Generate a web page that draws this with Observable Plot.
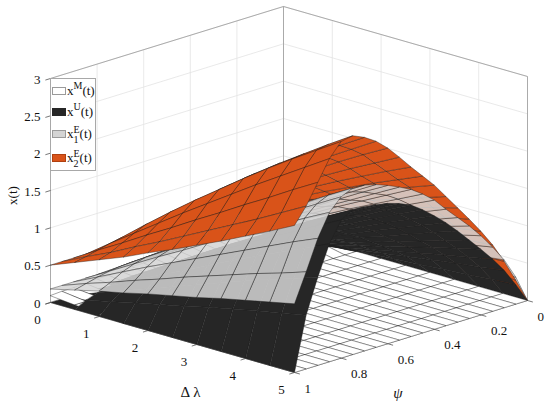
<!DOCTYPE html>
<html>
<head>
<meta charset="utf-8">
<script src="https://cdn.jsdelivr.net/npm/d3@7"></script>
<script src="https://cdn.jsdelivr.net/npm/@observablehq/plot@0.6"></script>
<style>
  body { margin: 0; background: #fff; }
  #wrap { position: relative; width: 550px; height: 404px; font-family: "Liberation Serif", "Tinos", "Times New Roman", Times, serif; }
  #legend { position: absolute; left: 50px; top: 78px; width: 46px; height: 93px; border: 1px solid #a8a8a8; background: #fff; font-size: 13px; color: #111; box-sizing: border-box; }
  .row { position: absolute; left: 1px; height: 20px; display: flex; align-items: center; white-space: nowrap; }
  .sw { display: inline-block; width: 14px; height: 8px; border: 1px solid #9a9a9a; box-sizing: border-box; margin-right: 1px; }
  .sup { font-size: 10px; position: relative; top: -6px; }
  .ss { display: inline-flex; flex-direction: column; font-size: 10px; line-height: 10px; position: relative; top: 1px; }
</style>
</head>
<body>
<div id="wrap">
  <div id="chart"></div>
  <div id="legend">
    <div class="row" style="top:2px"><span class="sw" style="background:#ffffff"></span><span>x<span class="sup">M</span>(t)</span></div>
    <div class="row" style="top:23px"><span class="sw" style="background:#262626;border-color:#262626"></span><span>x<span class="sup">U</span>(t)</span></div>
    <div class="row" style="top:45px"><span class="sw" style="background:#d4d4d4"></span><span style="display:inline-flex;align-items:center">x<span class="ss"><span>E</span><span>1</span></span>(t)</span></div>
    <div class="row" style="top:69px"><span class="sw" style="background:#d95319;border-color:#b04010"></span><span style="display:inline-flex;align-items:center">x<span class="ss"><span>E</span><span>2</span></span>(t)</span></div>
  </div>
</div>
<script>
// ---- data ----
const dLambda = [0, 0.5, 1, 1.5, 2, 2.5, 3, 3.5, 4, 4.5, 5];
const psi = [0, 0.05, 0.1, 0.15, 0.2, 0.25, 0.3, 0.35, 0.4, 0.45, 0.5, 0.55, 0.6, 0.65, 0.7, 0.75, 0.8, 0.85, 0.9, 0.95, 1];

// one row per psi value, one column per dLambda value
const x2E = [
  [0.50,0.44,0.39,0.33,0.28,0.23,0.18,0.13,0.09,0.04,0.00],
  [0.50,0.48,0.46,0.44,0.42,0.40,0.39,0.37,0.35,0.34,0.32],
  [0.50,0.51,0.53,0.54,0.55,0.56,0.58,0.59,0.60,0.61,0.62],
  [0.50,0.54,0.59,0.63,0.67,0.71,0.75,0.79,0.82,0.86,0.89],
  [0.50,0.57,0.64,0.71,0.77,0.83,0.89,0.95,1.01,1.07,1.12],
  [0.50,0.59,0.69,0.78,0.86,0.95,1.03,1.11,1.18,1.26,1.33],
  [0.50,0.62,0.73,0.84,0.95,1.05,1.16,1.25,1.35,1.44,1.53],
  [0.50,0.64,0.78,0.91,1.04,1.16,1.28,1.40,1.51,1.62,1.73],
  [0.50,0.66,0.82,0.97,1.12,1.27,1.41,1.55,1.68,1.81,1.93],
  [0.50,0.68,0.86,1.03,1.20,1.36,1.52,1.67,1.82,1.96,2.10],
  [0.50,0.70,0.90,1.09,1.27,1.45,1.63,1.80,1.96,2.12,2.27],
  [0.50,0.72,0.94,1.15,1.35,1.55,1.74,1.93,2.11,2.28,2.45],
  [0.50,0.74,0.98,1.20,1.42,1.64,1.85,2.05,2.25,2.44,2.62],
  [0.50,0.76,1.01,1.25,1.49,1.72,1.94,2.15,2.36,2.56,2.76],
  [0.50,0.77,1.03,1.28,1.53,1.77,2.00,2.23,2.44,2.66,2.86],
  [0.50,0.78,1.04,1.31,1.56,1.81,2.05,2.28,2.50,2.72,2.93],
  [0.50,0.77,1.04,1.30,1.55,1.79,2.03,2.26,2.48,2.69,2.90],
  [0.50,0.74,0.97,1.20,1.43,1.65,1.87,2.09,2.30,2.51,2.72],
  [0.50,0.70,0.89,1.09,1.28,1.48,1.67,1.87,2.06,2.26,2.45],
  [0.50,0.66,0.81,0.98,1.14,1.31,1.48,1.65,1.82,2.00,2.18],
  [0.50,0.63,0.76,0.89,1.04,1.18,1.33,1.48,1.64,1.80,1.97]
];
const x1E = [
  [0.18,0.16,0.14,0.12,0.11,0.09,0.07,0.05,0.03,0.02,0.00],
  [0.18,0.20,0.22,0.24,0.25,0.27,0.29,0.31,0.33,0.34,0.36],
  [0.18,0.23,0.28,0.32,0.37,0.42,0.46,0.51,0.55,0.60,0.64],
  [0.18,0.25,0.32,0.39,0.46,0.53,0.60,0.66,0.73,0.80,0.86],
  [0.18,0.27,0.36,0.46,0.54,0.63,0.72,0.81,0.89,0.98,1.06],
  [0.18,0.29,0.40,0.51,0.62,0.73,0.83,0.94,1.04,1.14,1.24],
  [0.18,0.31,0.44,0.56,0.69,0.81,0.93,1.05,1.17,1.28,1.40],
  [0.18,0.33,0.47,0.61,0.75,0.89,1.03,1.16,1.30,1.43,1.56],
  [0.18,0.34,0.51,0.66,0.82,0.98,1.13,1.28,1.43,1.58,1.73],
  [0.18,0.36,0.53,0.71,0.88,1.05,1.21,1.38,1.54,1.70,1.86],
  [0.18,0.37,0.56,0.74,0.92,1.10,1.28,1.46,1.63,1.80,1.97],
  [0.18,0.38,0.57,0.76,0.95,1.14,1.33,1.51,1.69,1.87,2.05],
  [0.18,0.38,0.59,0.79,0.98,1.18,1.37,1.56,1.75,1.94,2.12],
  [0.18,0.39,0.60,0.81,1.01,1.21,1.41,1.61,1.80,1.99,2.18],
  [0.18,0.40,0.61,0.82,1.03,1.23,1.43,1.63,1.83,2.03,2.22],
  [0.18,0.40,0.61,0.82,1.03,1.24,1.44,1.64,1.84,2.04,2.23],
  [0.18,0.39,0.60,0.80,1.00,1.20,1.40,1.59,1.78,1.97,2.16],
  [0.18,0.37,0.56,0.75,0.93,1.12,1.30,1.48,1.65,1.83,2.00],
  [0.18,0.34,0.50,0.66,0.81,0.96,1.11,1.26,1.41,1.56,1.70],
  [0.18,0.30,0.41,0.53,0.64,0.76,0.87,0.98,1.09,1.19,1.30],
  [0.18,0.26,0.34,0.41,0.49,0.56,0.63,0.71,0.78,0.85,0.92]
];
const xU = [
  [0,0.00,0.00,0.00,0.00,0.00,0.00,0.00,0.00,0.00,0.00],
  [0,0.03,0.06,0.08,0.11,0.14,0.16,0.19,0.21,0.24,0.26],
  [0,0.05,0.11,0.16,0.21,0.26,0.31,0.36,0.41,0.45,0.50],
  [0,0.07,0.15,0.22,0.29,0.36,0.43,0.50,0.57,0.63,0.70],
  [0,0.09,0.19,0.28,0.37,0.46,0.54,0.63,0.72,0.80,0.88],
  [0,0.11,0.22,0.33,0.44,0.55,0.65,0.75,0.85,0.95,1.05],
  [0,0.13,0.26,0.39,0.51,0.63,0.76,0.87,0.99,1.11,1.22],
  [0,0.15,0.29,0.44,0.58,0.72,0.85,0.99,1.12,1.25,1.38],
  [0,0.16,0.32,0.48,0.64,0.79,0.94,1.09,1.24,1.38,1.52],
  [0,0.18,0.35,0.52,0.69,0.86,1.02,1.18,1.34,1.50,1.65],
  [0,0.19,0.37,0.56,0.74,0.92,1.09,1.26,1.43,1.60,1.76],
  [0,0.20,0.39,0.58,0.77,0.95,1.13,1.31,1.49,1.66,1.83],
  [0,0.20,0.40,0.60,0.79,0.98,1.16,1.35,1.53,1.71,1.88],
  [0,0.20,0.41,0.61,0.80,0.99,1.18,1.37,1.55,1.73,1.91],
  [0,0.21,0.41,0.61,0.81,1.00,1.19,1.38,1.57,1.75,1.93],
  [0,0.21,0.41,0.61,0.81,1.01,1.20,1.39,1.58,1.76,1.94],
  [0,0.20,0.39,0.59,0.78,0.96,1.15,1.33,1.50,1.68,1.85],
  [0,0.17,0.34,0.50,0.66,0.82,0.98,1.13,1.28,1.43,1.58],
  [0,0.13,0.25,0.37,0.49,0.61,0.73,0.85,0.96,1.07,1.18],
  [0,0.08,0.15,0.23,0.30,0.37,0.45,0.52,0.59,0.65,0.72],
  [0,0.00,0.00,0.00,0.00,0.00,0.00,0.00,0.00,0.00,0.00]
];
const xM = [
  [0.22,0.15,0.07,0,0,0,0,0,0,0,0],
  [0.21,0.14,0.07,0,0,0,0,0,0,0,0],
  [0.21,0.14,0.07,0,0,0,0,0,0,0,0],
  [0.20,0.13,0.07,0,0,0,0,0,0,0,0],
  [0.19,0.13,0.06,0,0,0,0,0,0,0,0],
  [0.19,0.13,0.06,0,0,0,0,0,0,0,0],
  [0.18,0.12,0.06,0,0,0,0,0,0,0,0],
  [0.17,0.12,0.06,0,0,0,0,0,0,0,0],
  [0.17,0.11,0.06,0,0,0,0,0,0,0,0],
  [0.16,0.11,0.05,0,0,0,0,0,0,0,0],
  [0.16,0.10,0.05,0,0,0,0,0,0,0,0],
  [0.15,0.10,0.05,0,0,0,0,0,0,0,0],
  [0.14,0.10,0.05,0,0,0,0,0,0,0,0],
  [0.14,0.09,0.05,0,0,0,0,0,0,0,0],
  [0.13,0.09,0.04,0,0,0,0,0,0,0,0],
  [0.12,0.08,0.04,0,0,0,0,0,0,0,0],
  [0.12,0.08,0.04,0,0,0,0,0,0,0,0],
  [0.11,0.07,0.04,0,0,0,0,0,0,0,0],
  [0.10,0.07,0.03,0,0,0,0,0,0,0,0],
  [0.10,0.06,0.03,0,0,0,0,0,0,0,0],
  [0.09,0.06,0.03,0,0,0,0,0,0,0,0]
];

const zTicks = [0, 0.5, 1, 1.5, 2, 2.5, 3];
const dlTicks = [0, 1, 2, 3, 4, 5];
const psiTicks = [0, 0.2, 0.4, 0.6, 0.8, 1];
const zMax = 3, dlMax = 5, psiMax = 1;

// ---- orthographic 3-D view ----
const view = {ox: 283, oy: 230, dlx: 48.8, dly: 14, psx: -233, psy: 72, zy: -74.67};
function proj(dl, ps, z) {
  return [view.ox + view.dlx * dl + view.psx * ps, view.oy + view.dly * dl + view.psy * ps + view.zy * z];
}
// direction pointing at the camera (in data units) and horizontal distance toward it
const toCamera = [1, 0.2094, 0.3895];
const groundDepth = (dl, ps) => 0.1326 * dl + 0.682 * ps;

const surfaces = [
  {rows: xM, fill: "#ffffff"},
  {rows: xU, fill: "#262626"},
  {rows: x1E, fill: "rgba(212,212,212,0.86)"},
  {rows: x2E, fill: "#d95319"}
];

// painter's order for stacked height fields on a shared grid:
// columns back to front; inside a column, faces seen from above go low-to-high,
// faces seen from below go high-to-low (and before the others)
const quads = [];
for (const s of surfaces) {
  for (let i = 0; i < psi.length - 1; i++) {
    for (let j = 0; j < dLambda.length - 1; j++) {
      const r = s.rows;
      const corners = [[i, j], [i, j + 1], [i + 1, j + 1], [i + 1, j]].map(([a, b]) => ({dl: dLambda[b], ps: psi[a], z: r[a][b]}));
      const fx = ((r[i][j + 1] - r[i][j]) + (r[i + 1][j + 1] - r[i + 1][j])) / 2 / (dLambda[j + 1] - dLambda[j]);
      const fy = ((r[i + 1][j] - r[i][j]) + (r[i + 1][j + 1] - r[i][j + 1])) / 2 / (psi[i + 1] - psi[i]);
      const seenFromAbove = (-fx * toCamera[0] - fy * toCamera[1] + toCamera[2]) >= 0;
      const col = groundDepth((dLambda[j] + dLambda[j + 1]) / 2, (psi[i] + psi[i + 1]) / 2);
      const zMean = d3.mean(corners, c => c.z);
      quads.push({corners, col, key: seenFromAbove ? 10 + zMean : -zMean, fill: s.fill});
    }
  }
}
quads.sort((a, b) => (a.col - b.col) || (a.key - b.key));
const quadPts = quads.flatMap((q, k) => q.corners.map(c => {
  const [x, y] = proj(c.dl, c.ps, c.z);
  return {x, y, id: k, fill: q.fill};
}));

// ---- box, grid, axes ----
const seg = (p, q) => { const [x1, y1] = proj(...p); const [x2, y2] = proj(...q); return {x1, y1, x2, y2}; };
const grid = [];
zTicks.forEach(z => { grid.push(seg([0, psiMax, z], [0, 0, z])); grid.push(seg([0, 0, z], [dlMax, 0, z])); });
psiTicks.forEach(p => { grid.push(seg([0, p, 0], [0, p, zMax])); grid.push(seg([0, p, 0], [dlMax, p, 0])); });
dlTicks.forEach(d => { grid.push(seg([d, 0, 0], [d, 0, zMax])); grid.push(seg([d, 0, 0], [d, psiMax, 0])); });

const boxLines = [
  seg([0, psiMax, 0], [0, psiMax, zMax]),
  seg([0, 0, 0], [0, 0, zMax]),
  seg([dlMax, 0, 0], [dlMax, 0, zMax]),
  seg([0, psiMax, zMax], [0, 0, zMax]),
  seg([0, 0, zMax], [dlMax, 0, zMax]),
  seg([0, psiMax, 0], [dlMax, psiMax, 0]),
  seg([dlMax, psiMax, 0], [dlMax, 0, 0])
];
const ticks = [
  ...zTicks.map(z => seg([0, psiMax, z], [0, psiMax + 0.022, z])),
  ...dlTicks.map(d => seg([d, psiMax, 0], [d, psiMax + 0.022, 0])),
  ...psiTicks.map(p => seg([dlMax, p, 0], [dlMax + 0.11, p, 0]))
];

const px = f => d => f(d)[0], py = f => d => f(d)[1];
const zPos = z => proj(0, psiMax, z), dlPos = d => proj(d, psiMax, 0), psPos = p => proj(dlMax, p, 0);
const fmt = v => String(v);
const serif = "'Liberation Serif', 'Tinos', 'Times New Roman', Times, serif";

const chart = Plot.plot({
  width: 550,
  height: 404,
  margin: 0,
  x: {domain: [0, 550], range: [0, 550], axis: null},
  y: {domain: [0, 404], range: [0, 404], axis: null},
  style: {fontFamily: serif, background: "#fff", color: "#111"},
  marks: [
    Plot.link(grid, {x1: "x1", y1: "y1", x2: "x2", y2: "y2", stroke: "#e3e3e3", strokeWidth: 0.8}),
    Plot.link(boxLines, {x1: "x1", y1: "y1", x2: "x2", y2: "y2", stroke: "#9a9a9a", strokeWidth: 0.8}),
    Plot.line(quadPts, {x: "x", y: "y", z: "id", fill: "fill", stroke: "#1e1e1e", strokeWidth: 0.45, strokeOpacity: 0.9, curve: "linear-closed"}),
    Plot.link(ticks, {x1: "x1", y1: "y1", x2: "x2", y2: "y2", stroke: "#555", strokeWidth: 0.8}),
    Plot.text(zTicks, {x: px(zPos), y: py(zPos), text: fmt, textAnchor: "end", dx: -10, dy: 1, fontSize: 13, fontFamily: serif}),
    Plot.text(dlTicks, {x: px(dlPos), y: py(dlPos), text: fmt, textAnchor: "middle", dx: -13, dy: 17, fontSize: 13, fontFamily: serif}),
    Plot.text(psiTicks, {x: px(psPos), y: py(psPos), text: fmt, textAnchor: "start", dx: 10, dy: 16, fontSize: 13, fontFamily: serif}),
    Plot.text(["x(t)"], {x: () => zPos(1.5)[0], y: () => zPos(1.5)[1], dx: -38, dy: 5, rotate: -90, fontSize: 13, fontFamily: serif}),
    Plot.text(["Δ λ"], {x: () => dlPos(2.5)[0], y: () => dlPos(2.5)[1], dx: 18, dy: 55, fontSize: 15, fontFamily: serif}),
    Plot.text(["ψ"], {x: () => psPos(0.5)[0], y: () => psPos(0.5)[1], dx: -13, dy: 57, fontSize: 15, fontStyle: "italic", fontFamily: serif})
  ]
});
document.getElementById("chart").appendChild(chart);
</script>
</body>
</html>
